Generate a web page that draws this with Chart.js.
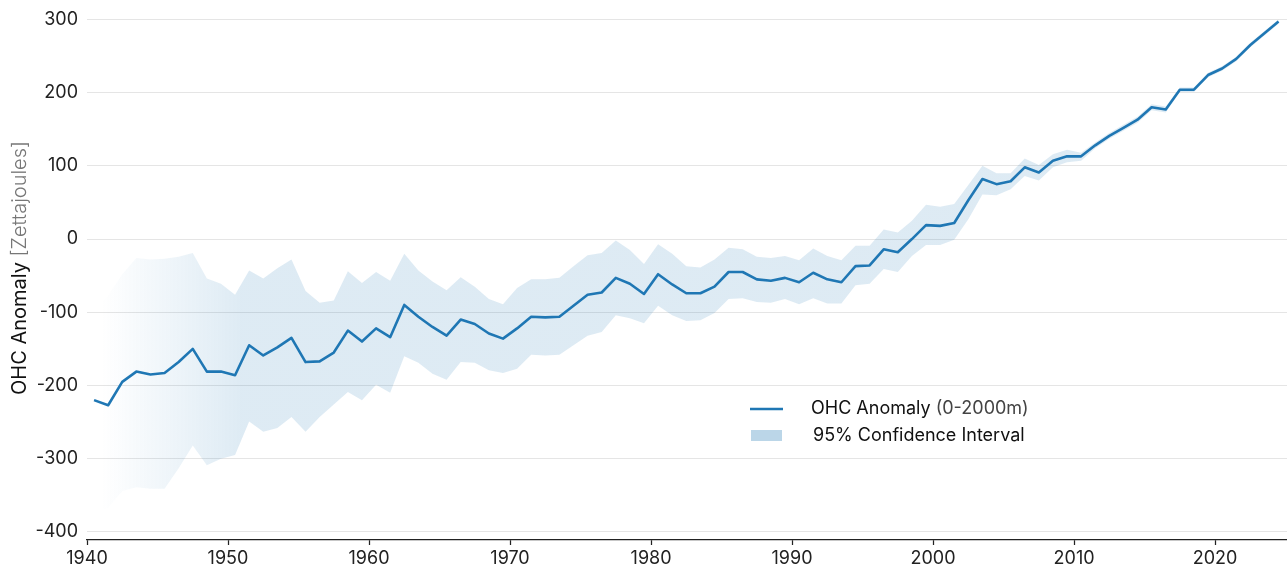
<!DOCTYPE html>
<html>
<head>
<meta charset="utf-8">
<title>OHC Anomaly (0-2000m)</title>
<script src="https://cdn.jsdelivr.net/npm/chart.js@4.4.1/dist/chart.umd.min.js"></script>
<style>
    html, body { margin: 0; padding: 0; background: #fff; }
    #wrap { width: 1287px; height: 569px; position: relative; }
</style>
</head>
<body>
<div id="wrap"><canvas id="ohcChart"></canvas></div>
<script>
// Annual values, one per year (plotted at mid-year)
const years = [
    1940, 1941, 1942, 1943, 1944, 1945, 1946, 1947, 1948, 1949,
    1950, 1951, 1952, 1953, 1954, 1955, 1956, 1957, 1958, 1959,
    1960, 1961, 1962, 1963, 1964, 1965, 1966, 1967, 1968, 1969,
    1970, 1971, 1972, 1973, 1974, 1975, 1976, 1977, 1978, 1979,
    1980, 1981, 1982, 1983, 1984, 1985, 1986, 1987, 1988, 1989,
    1990, 1991, 1992, 1993, 1994, 1995, 1996, 1997, 1998, 1999,
    2000, 2001, 2002, 2003, 2004, 2005, 2006, 2007, 2008, 2009,
    2010, 2011, 2012, 2013, 2014, 2015, 2016, 2017, 2018, 2019,
    2020, 2021, 2022, 2023, 2024
];

// OHC anomaly (0-2000m), Zettajoules
const ohcAnomaly = [
    -220, -227, -195, -181, -185, -183, -168, -150, -181, -181,
    -186, -145, -159, -148, -135, -168, -167, -155, -125, -140,
    -122, -134, -90, -106, -120, -132, -110, -116, -129, -136,
    -122, -106, -107, -106, -91, -76, -73, -53, -61, -75,
    -48, -62, -74, -74, -65, -45, -45, -55, -57, -53,
    -59, -46, -55, -59, -37, -36, -14, -18, 0, 19,
    18, 22, 53, 82, 75, 79, 98, 91, 107, 113,
    113, 128, 141, 152, 163, 180, 177, 204, 204, 224,
    233, 246, 265, 281, 297
];

// 95% confidence interval bounds
const ciUpper = [
    -95, -77, -48, -26, -28, -27, -24, -19, -54, -61,
    -76, -43, -54, -40, -28, -71, -87, -84, -44, -60,
    -45, -57, -20, -43, -58, -70, -52, -65, -82, -89,
    -67, -55, -55, -53, -37, -22, -19, -2, -15, -34,
    -7, -20, -37, -39, -28, -12, -14, -24, -26, -23,
    -29, -13, -23, -29, -9, -9, 13, 9, 25, 47,
    44, 48, 74, 100, 90, 90, 110, 101, 116, 122,
    118, 132, 145, 156, 167, 184, 181, 207, 207, 227,
    236, 249, 268, 284, 300
];
const ciLower = [
    -372, -367, -344, -339, -341, -341, -313, -282, -309, -300,
    -295, -249, -263, -258, -243, -263, -243, -226, -209, -220,
    -199, -210, -160, -169, -184, -192, -168, -169, -179, -183,
    -177, -158, -159, -158, -145, -132, -127, -104, -108, -115,
    -91, -104, -112, -111, -101, -82, -81, -86, -87, -82,
    -89, -81, -88, -88, -63, -61, -41, -45, -23, -8,
    -8, -1, 27, 61, 60, 68, 86, 80, 98, 105,
    107, 124, 137, 148, 159, 176, 173, 201, 201, 221,
    230, 243, 262, 278, 294
];

const yTicks = [-400, -300, -200, -100, 0, 100, 200, 300];
const xTicks = [1940, 1950, 1960, 1970, 1980, 1990, 2000, 2010, 2020];

const LINE_COLOR = '#1f77b4';
const BAND_RGB = '31, 119, 180';
const FONT = 'Inter, "DejaVu Sans", sans-serif';
const MID_YEAR = 0.5;

function toPoints(values) {
    return years.map((yr, i) => ({ x: yr + MID_YEAR, y: values[i] }));
}

// Remplissage de la bande, qui s'estompe vers la gauche
function bandFill(context) {
    const chart = context.chart;
    const area = chart.chartArea;
    if (!area) {
        return `rgba(${BAND_RGB}, 0.15)`;
    }
    const xs = chart.scales.x;
    const x0 = xs.getPixelForValue(1941);
    const x1 = xs.getPixelForValue(1951);
    const g = chart.ctx.createLinearGradient(x0, 0, x1, 0);
    g.addColorStop(0, `rgba(${BAND_RGB}, 0)`);
    g.addColorStop(1, `rgba(${BAND_RGB}, 0.15)`);
    return g;
}

// Pas de marge automatique autour des axes
function noPadding(s) {
    s.paddingTop = 0;
    s.paddingBottom = 0;
    s.paddingLeft = 0;
    s.paddingRight = 0;
}

// Titre de l'axe Y en deux couleurs
const axisTitlePlugin = {
    id: 'axisTitle',
    afterDraw(chart) {
        const ctx = chart.ctx;
        const main = 'OHC Anomaly ';
        const sub = '[Zettajoules]';
        ctx.save();
        ctx.translate(20, 268);
        ctx.rotate(-Math.PI / 2);
        ctx.textBaseline = 'middle';
        ctx.textAlign = 'left';
        ctx.font = `20px ${FONT}`;
        const w1 = ctx.measureText(main).width;
        ctx.font = `300 20px ${FONT}`;
        const w2 = ctx.measureText(sub).width;
        const x = -(w1 + w2) / 2;
        ctx.font = `20px ${FONT}`;
        ctx.fillStyle = '#111';
        ctx.fillText(main, x, 0);
        ctx.font = `300 20px ${FONT}`;
        ctx.fillStyle = '#777';
        ctx.fillText(sub, x + w1, 0);
        ctx.restore();
    }
};

// Légende dans la zone du graphique
const legendPlugin = {
    id: 'insideLegend',
    afterDraw(chart) {
        const ctx = chart.ctx;
        ctx.save();
        ctx.textBaseline = 'middle';
        ctx.textAlign = 'left';

        ctx.strokeStyle = LINE_COLOR;
        ctx.lineWidth = 2.6;
        ctx.beginPath();
        ctx.moveTo(750, 409);
        ctx.lineTo(783, 409);
        ctx.stroke();

        ctx.font = `18px ${FONT}`;
        ctx.fillStyle = '#111';
        const t1 = 'OHC Anomaly ';
        ctx.fillText(t1, 811, 409);
        const w = ctx.measureText(t1).width;
        ctx.fillStyle = '#444';
        ctx.fillText('(0-2000m)', 811 + w, 409);

        ctx.fillStyle = `rgba(${BAND_RGB}, 0.3)`;
        ctx.fillRect(751, 430, 31, 11);
        ctx.fillStyle = '#111';
        ctx.fillText('95% Confidence Interval', 813, 435.5);
        ctx.restore();
    }
};

const ctx = document.getElementById('ohcChart').getContext('2d');
new Chart(ctx, {
    type: 'line',
    data: {
        datasets: [
            {
                label: 'OHC Anomaly (0-2000m)',
                data: toPoints(ohcAnomaly),
                borderColor: LINE_COLOR,
                borderWidth: 2.6,
                borderJoinStyle: 'round',
                pointRadius: 0,
                tension: 0,
                fill: false,
                order: 0
            },
            {
                label: '95% Confidence Interval',
                data: toPoints(ciUpper),
                borderWidth: 0,
                pointRadius: 0,
                tension: 0,
                fill: '+1',
                backgroundColor: bandFill,
                order: 1
            },
            {
                label: 'lower',
                data: toPoints(ciLower),
                borderWidth: 0,
                pointRadius: 0,
                tension: 0,
                fill: false,
                order: 2
            }
        ]
    },
    options: {
        responsive: true,
        maintainAspectRatio: false,
        animation: false,
        events: [],
        layout: { padding: 0 },
        plugins: {
            legend: { display: false },
            tooltip: { enabled: false },
            title: { display: false }
        },
        scales: {
            x: {
                type: 'linear',
                min: 1940,
                max: 2025.1,
                afterBuildTicks: s => { s.ticks = xTicks.map(v => ({ value: v })); },
                afterFit: s => { s.height = 29; noPadding(s); },
                ticks: {
                    color: '#222',
                    font: { family: FONT, size: 18 },
                    padding: 3,
                    maxRotation: 0,
                    autoSkip: false,
                    callback: v => String(v)
                },
                grid: {
                    drawOnChartArea: false,
                    drawTicks: true,
                    tickLength: 5,
                    color: '#222',
                    tickWidth: 1.25
                },
                border: { display: true, color: '#222', width: 1.25 }
            },
            y: {
                min: -411,
                max: 326.5,
                z: 1,
                afterBuildTicks: s => { s.ticks = yTicks.map(v => ({ value: v })); },
                afterFit: s => { s.width = 87; noPadding(s); },
                ticks: {
                    color: '#222',
                    font: { family: FONT, size: 18 },
                    padding: 9,
                    callback: v => String(v)
                },
                grid: {
                    color: 'rgba(0, 0, 0, 0.1)',
                    lineWidth: 1,
                    drawTicks: false
                },
                border: { display: false },
                title: { display: false }
            }
        }
    },
    plugins: [axisTitlePlugin, legendPlugin]
});
</script>
</body>
</html>
